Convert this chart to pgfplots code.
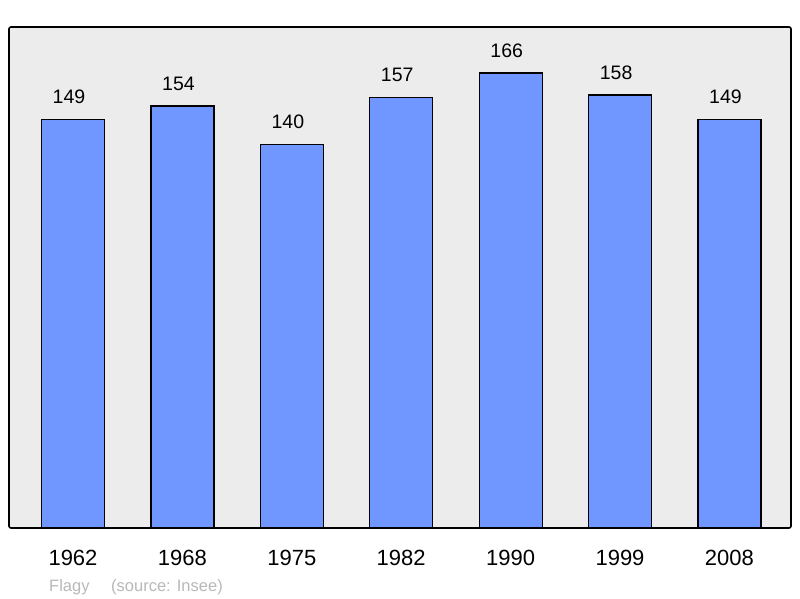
\documentclass[border=0pt]{standalone}
\usepackage{pgfplots}
\pgfplotsset{compat=1.18}
\usepackage{fontspec}
\setmainfont{Liberation Sans}
\definecolor{bgc}{HTML}{ECECEC}
\definecolor{barc}{HTML}{7097FF}
\definecolor{srcc}{HTML}{B8B8B8}
\begin{document}
\begin{tikzpicture}[x=1pt,y=1pt]
\useasboundingbox (0,0) rectangle (800,598);
\fill[bgc, rounded corners=2pt] (9,70) rectangle (791,571);
\begin{axis}[
  at={(9pt,70pt)}, anchor=south west,
  width=782pt, height=501pt, scale only axis,
  axis lines=none,
  xmin=-0.585, xmax=6.562, ymin=0, ymax=182.8,
  ybar, bar width=63pt,
  xtick=data, xticklabels={1962,1968,1975,1982,1990,1999,2008},
  /pgf/number format/assume math mode=true,
  nodes near coords,
  every node near coord/.append style={font=\fontsize{19.5}{20}\selectfont, inner sep=0pt, yshift=15pt, xshift=-4pt, anchor=south, black},
  clip=false,
]
\addplot[fill=barc, draw=black, line width=1.3pt] coordinates {
(0,149) (1,154) (2,140) (3,157) (4,166) (5,158) (6,149)};
\end{axis}
\foreach \x/\l in {73/1962,182.4/1968,291.8/1975,401.2/1982,510.6/1990,620/1999,729.4/2008}{
  \node[anchor=base, inner sep=0pt, font=\fontsize{22}{24}\selectfont] at (\x,33) {\l};
}
\draw[black, line width=1.6pt, rounded corners=2pt] (9,70) rectangle (791,571);
\node[anchor=base west, inner sep=0pt, text=srcc, font=\fontsize{16.5}{18}\selectfont] at (49,7) {Flagy};
\node[anchor=base west, inner sep=0pt, text=srcc, font=\fontsize{16.5}{18}\selectfont] at (111,7) {(source: Insee)};
\end{tikzpicture}
\end{document}
